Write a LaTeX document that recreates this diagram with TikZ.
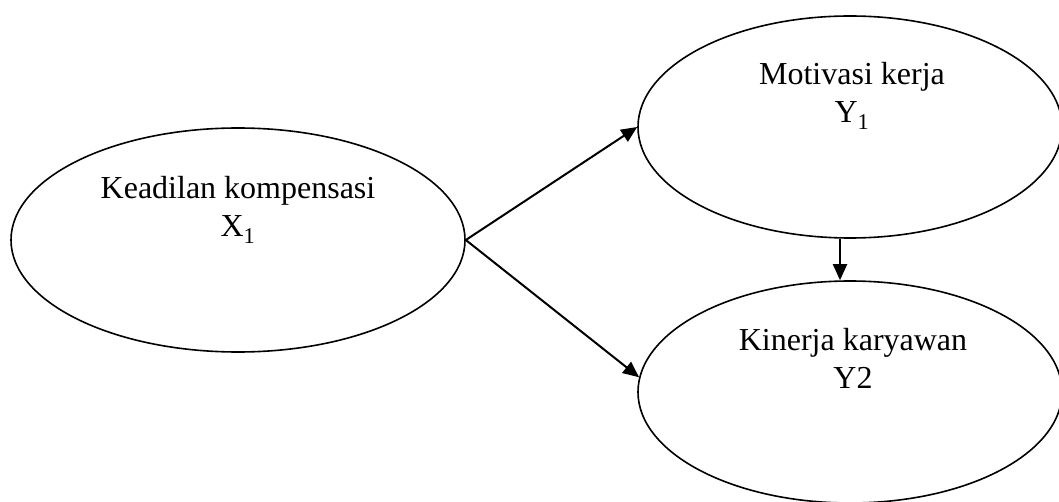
\documentclass[tikz,border=0pt]{standalone}
\usepackage{fontspec}
\setmainfont{Liberation Serif}
\usetikzlibrary{shapes.geometric,arrows.meta}
\tikzset{
  construct/.style={draw=black, line width=1.6pt, ellipse, inner sep=0pt},
  caption/.style={anchor=base, inner sep=0pt, font=\fontsize{32}{38}\selectfont},
  path/.style={draw=black, line width=2pt, -{Triangle[length=16pt,width=14pt]}}
}
\newcommand{\twolines}[2]{\begin{tabular}[t]{@{}c@{}}#1\\#2\end{tabular}}
\begin{document}
\begin{tikzpicture}[x=1pt,y=1pt]
  \useasboundingbox (0,0) rectangle (1059,501);
  % latent constructs
  \node[construct, minimum width=454pt, minimum height=224pt] (X) at (238,261) {};
  \node[construct, minimum width=424pt, minimum height=222pt] (M) at (850,374) {};
  \node[construct, minimum width=424pt, minimum height=222pt] (K) at (850,109) {};
  % construct labels
  \node[caption] (xl) at (238,302) {\twolines{Keadilan kompensasi}{X\textsubscript{1}}};
  \node[caption] (ml) at (852,416) {\twolines{Motivasi kerja}{Y\textsubscript{1}}};
  \node[caption] (kl) at (853,151) {\twolines{Kinerja karyawan}{Y2}};
  % hypothesised paths
  \draw[path] (X.east) -- (M.west);
  \draw[path] (X.east) -- (K.176);
  \draw[path] ([xshift=-10pt]M.south) -- ([xshift=-10pt]K.north);
\end{tikzpicture}
\end{document}
